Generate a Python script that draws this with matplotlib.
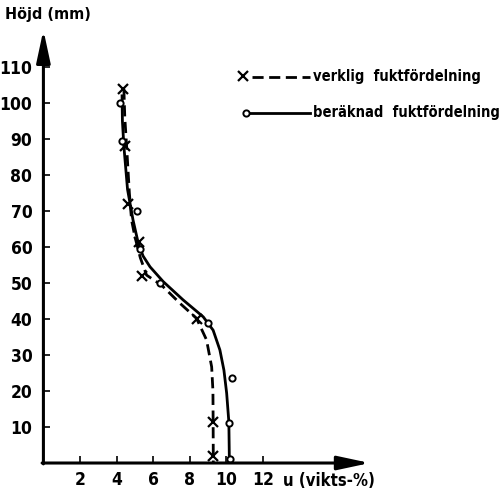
import numpy as np
import matplotlib
matplotlib.use('Agg')
import matplotlib.pyplot as plt
from matplotlib.lines import Line2D

plt.rcParams['font.family'] = ['DejaVu Sans']
plt.rcParams['font.stretch'] = 'condensed'
plt.rcParams['font.weight'] = 'bold'

# measured points (u in vikts-%, h in mm)
verklig_u = [4.35, 4.45, 4.6, 5.25, 5.4, 8.4, 9.25, 9.3]
verklig_h = [104, 88, 72, 61.5, 52, 40, 11.5, 2]
berakn_u = [4.2, 4.3, 5.1, 5.3, 6.4, 9.0, 10.3, 10.15, 10.2]
berakn_h = [100, 89.5, 70, 59.5, 50, 39, 23.5, 11, 1]

# hand drawn curves
dash_u = [4.4, 4.45, 4.55, 4.7, 4.82, 5.0, 5.3, 5.64, 6.46, 7.46, 8.37, 8.92, 9.2, 9.27, 9.28, 9.29]
dash_h = [104, 96, 88, 75, 67.5, 62.9, 57, 52.2, 49.4, 44.4, 40.2, 34.2, 26.7, 20, 12, 0]
solid_u = [4.3, 4.32, 4.4, 4.6, 4.9, 5.19, 5.45, 5.83, 6.55, 7.64, 8.74, 9.28, 9.65, 9.87, 10.02, 10.14, 10.17]
solid_h = [102, 95, 88, 76, 67.5, 61, 57.5, 54.5, 50.4, 45.3, 40.6, 36.9, 31.4, 25.8, 19.4, 11.4, 0]

xticks = [2, 4, 6, 8, 10, 12]
yticks = [10, 20, 30, 40, 50, 60, 70, 80, 90, 100, 110]

fig = plt.figure(figsize=(5.03, 4.91), dpi=100)
ax = fig.add_axes([0.0863, 0.057, 0.649, 0.882])
ax.set_xlim(0, 17.85)
ax.set_ylim(0, 120.3)
for s in ax.spines.values():
    s.set_visible(False)

# axes with arrows
ax.annotate('', xy=(0, 1), xytext=(0, -0.002), xycoords='axes fraction',
            arrowprops=dict(arrowstyle='-|>,head_length=1.4,head_width=0.3',
                            lw=2.2, color='black', mutation_scale=14, shrinkA=0, shrinkB=0))
ax.annotate('', xy=(1, 0), xytext=(-0.004, 0), xycoords='axes fraction',
            arrowprops=dict(arrowstyle='-|>,head_length=1.4,head_width=0.3',
                            lw=2.2, color='black', mutation_scale=14, shrinkA=0, shrinkB=0))

ax.set_xticks(xticks)
ax.set_yticks(yticks)
ax.tick_params(direction='in', length=5, width=1.2, labelsize=12.5, pad=6)
ax.tick_params(axis='y', pad=8)

ax.plot(dash_u, dash_h, color='black', lw=2.0, dashes=(4, 2))
ax.plot(solid_u, solid_h, color='black', lw=2.0)
ax.plot(verklig_u, verklig_h, ls='none', marker='x', ms=7, mew=1.6, color='black')
ax.plot(berakn_u, berakn_h, ls='none', marker='o', ms=4.5, mew=1.4,
        mfc='white', mec='black')

fig.text(5 / 503, 1 - 15 / 491, 'Höjd (mm)', fontsize=11.5, va='center', ha='left')
fig.text(283 / 503, 1 - 481 / 491, 'u (vikts-%)', fontsize=12, va='center', ha='left')

# legend drawn by hand
def fx(p):
    return p / 503

def fy(p):
    return 1 - p / 491

tf = fig.transFigure
fig.lines.append(Line2D([fx(243)], [fy(76)], marker='x', ms=7, mew=1.6, color='black',
                        ls='none', transform=tf))
fig.lines.append(Line2D([fx(252), fx(310)], [fy(77), fy(77)], lw=2.0, color='black',
                        dashes=(4, 2), transform=tf))
fig.text(fx(313), fy(76), 'verklig  fuktfördelning', fontsize=10.5, va='center')
fig.lines.append(Line2D([fx(246)], [fy(113)], marker='o', ms=4.5, mew=1.4, mfc='white',
                        mec='black', ls='none', transform=tf))
fig.lines.append(Line2D([fx(250), fx(310)], [fy(113), fy(113)], lw=2.0, color='black',
                        transform=tf))
fig.text(fx(313), fy(113), 'beräknad  fuktfördelning', fontsize=10.5, va='center')

plt.savefig('out.png', dpi=100)
